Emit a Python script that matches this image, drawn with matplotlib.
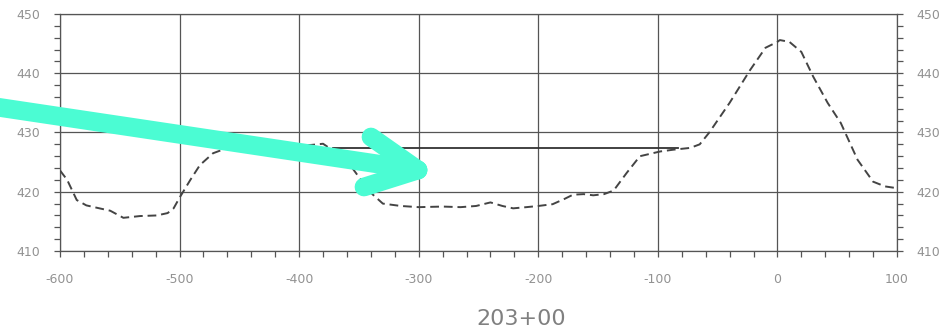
import matplotlib.pyplot as plt
from matplotlib.lines import Line2D
from matplotlib.ticker import MultipleLocator

# ground profile along the section (station offset, elevation)
station = [-600, -594, -590, -586, -578, -567, -558, -547, -533, -519, -510, -505,
           -500, -491, -483, -472, -460, -445, -425, -405, -390, -380, -372, -357,
           -341, -330, -315, -300, -280, -265, -252, -240, -230, -221, -210, -200,
           -188, -178, -171, -162, -154, -145, -137, -126, -115, -98, -87, -73,
           -65, -57, -40, -23, -10, 0, 2, 10, 20, 30, 42, 53, 67, 80, 90, 100]
elevation = [423.6, 422.0, 420.3, 418.6, 417.7, 417.2, 416.8, 415.6, 415.9, 416.0, 416.4, 417.2,
             419.0, 422.0, 424.5, 426.5, 427.4, 427.7, 427.8, 427.8, 427.9, 428.1, 427.0, 424.4,
             420.0, 418.0, 417.6, 417.4, 417.5, 417.4, 417.6, 418.2, 417.6, 417.2, 417.4, 417.6,
             417.9, 418.8, 419.5, 419.6, 419.4, 419.6, 420.2, 423.2, 426.0, 426.8, 427.1, 427.4,
             428.0, 430.0, 435.0, 440.5, 444.3, 445.3, 445.6, 445.3, 443.6, 439.4, 435.0, 431.6,
             425.4, 421.7, 420.9, 420.6]

# water level line
pool_start, pool_end = -372, -83
pool_level = 427.3

section_label = "203+00"
x_ticks = [-600, -500, -400, -300, -200, -100, 0, 100]
x_tick_labels = ["-600", "-500", "-400", "-300", "-200", "-100", "0", "100"]
y_ticks = [410, 420, 430, 440, 450]

fig = plt.figure(figsize=(9.45, 3.33), dpi=100)
ax = fig.add_axes([60 / 945, 1 - 251 / 333, 837 / 945, 237 / 333])

grid_col = "#555555"
label_col = "#929292"

ax.plot(station, elevation, color="#444444", lw=1.4, linestyle=(0, (4.5, 2.5)), zorder=3)
ax.plot([pool_start, pool_end], [pool_level, pool_level], color="#333333", lw=1.3, zorder=3)

ax.set_xlim(-600, 100)
ax.set_ylim(410, 450)
ax.set_xticks(x_ticks)
ax.set_xticklabels(x_tick_labels)
ax.set_yticks(y_ticks)
ax.xaxis.set_minor_locator(MultipleLocator(20))
ax.yaxis.set_minor_locator(MultipleLocator(2))
ax.grid(True, which="major", color=grid_col, lw=0.9)

for side in ax.spines.values():
    side.set_color(grid_col)
    side.set_linewidth(0.9)

ax.tick_params(which="both", direction="out", length=4, width=0.9, color=grid_col,
               labelsize=9, labelcolor=label_col, left=True, right=True,
               labelleft=True, labelright=True, top=False)
ax.tick_params(axis="y", which="major", pad=10)
ax.tick_params(axis="x", which="major", pad=12)

fig.text(521 / 945, 1 - 319 / 333, section_label, ha="center", va="center",
         fontsize=16, color="#808080")

# highlight arrow drawn over the figure (pixel positions from top-left)
def fig_pt(px, py):
    return px / 945, 1 - py / 333

teal = "#4BFCD3"
segments = [((-10, 106), (418, 170)), ((418, 170), (371, 137)), ((418, 170), (364, 187))]
for (a, b) in segments:
    (x0, y0), (x1, y1) = fig_pt(*a), fig_pt(*b)
    fig.add_artist(Line2D([x0, x1], [y0, y1], transform=fig.transFigure, color=teal,
                          lw=13.5, solid_capstyle="round", zorder=10))

fig.savefig("out.png", dpi=100)
